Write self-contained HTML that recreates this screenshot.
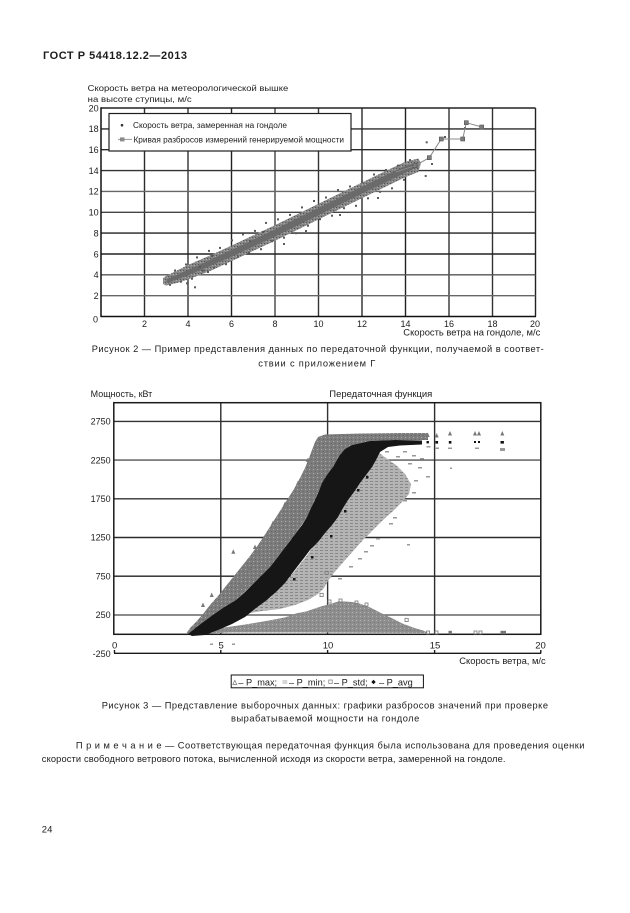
<!DOCTYPE html>
<html>
<head>
<meta charset="utf-8">
<style>
html,body{margin:0;padding:0;background:#fff;}
svg{display:block;}
text{font-family:"Liberation Sans",Arial,sans-serif;fill:#1c1c1c;}
</style>
</head>
<body>
<svg width="630" height="913" viewBox="0 0 630 913" xmlns="http://www.w3.org/2000/svg">
<defs>
  <pattern id="pmin" width="5" height="3" patternUnits="userSpaceOnUse">
    <rect width="5" height="3" fill="#b4b4b4"/>
    <rect x="0" y="1" width="3" height="1" fill="#888"/>
  </pattern>
  <pattern id="pmax" width="4" height="4" patternUnits="userSpaceOnUse">
    <rect width="4" height="4" fill="#7c7c7c"/>
    <rect x="1" y="1" width="1" height="1" fill="#a8a8a8"/>
    <rect x="3" y="3" width="1" height="1" fill="#666"/>
  </pattern>
  <pattern id="pstd" width="4" height="4" patternUnits="userSpaceOnUse">
    <rect width="4" height="4" fill="#8e8e8e"/>
    <rect x="0" y="0" width="1" height="1" fill="#b0b0b0"/>
    <rect x="2" y="2" width="1" height="1" fill="#777"/>
  </pattern>
  <pattern id="pband" width="3" height="3" patternUnits="userSpaceOnUse">
    <rect width="3" height="3" fill="#858585"/>
    <rect x="0" y="0" width="1" height="1" fill="#555"/>
    <rect x="2" y="1" width="1" height="1" fill="#aaa"/>
  </pattern>
</defs>
<rect x="0" y="0" width="630" height="913" fill="#fff"/>

<!-- Header -->
<text x="43" y="58.8" font-size="11" font-weight="bold" textLength="144" lengthAdjust="spacing">ГОСТ Р 54418.12.2—2013</text>

<!-- ============ FIGURE 2 ============ -->
<text x="87.7" y="91" font-size="8.6" textLength="200.5" lengthAdjust="spacingAndGlyphs">Скорость ветра на метеорологической вышке</text>
<text x="87.7" y="101.8" font-size="8.6" textLength="104" lengthAdjust="spacingAndGlyphs">на высоте ступицы, м/с</text>

<!-- grid -->
<g stroke-width="1.4" fill="none">
  <line x1="144.5" y1="108" x2="144.5" y2="316.5" stroke="#2b2b2b"/>
  <line x1="188" y1="108" x2="188" y2="316.5" stroke="#333"/>
  <line x1="231.5" y1="108" x2="231.5" y2="316.5" stroke="#222"/>
  <line x1="275" y1="108" x2="275" y2="316.5" stroke="#444"/>
  <line x1="318.5" y1="108" x2="318.5" y2="316.5" stroke="#333"/>
  <line x1="362" y1="108" x2="362" y2="316.5" stroke="#2b2b2b"/>
  <line x1="405.5" y1="108" x2="405.5" y2="316.5" stroke="#222"/>
  <line x1="449" y1="108" x2="449" y2="316.5" stroke="#333"/>
  <line x1="492.5" y1="108" x2="492.5" y2="316.5" stroke="#333"/>
  <line x1="535.5" y1="108" x2="535.5" y2="316.5" stroke="#222"/>
  <line x1="101" y1="295.7" x2="535.5" y2="295.7" stroke="#666"/>
  <line x1="101" y1="274.8" x2="535.5" y2="274.8" stroke="#555"/>
  <line x1="101" y1="254" x2="535.5" y2="254" stroke="#222"/>
  <line x1="101" y1="233.1" x2="535.5" y2="233.1" stroke="#222"/>
  <line x1="101" y1="212.3" x2="535.5" y2="212.3" stroke="#444"/>
  <line x1="101" y1="191.4" x2="535.5" y2="191.4" stroke="#666"/>
  <line x1="101" y1="170.6" x2="535.5" y2="170.6" stroke="#333"/>
  <line x1="101" y1="149.7" x2="535.5" y2="149.7" stroke="#2b2b2b"/>
  <line x1="101" y1="128.9" x2="535.5" y2="128.9" stroke="#2b2b2b"/>
  <line x1="101" y1="108" x2="535.5" y2="108" stroke="#222"/>
  <line x1="101" y1="107.3" x2="101" y2="317" stroke="#111" stroke-width="1.5"/>
  <line x1="100.5" y1="316.5" x2="536" y2="316.5" stroke="#111" stroke-width="1.5"/>
</g>

<!-- scatter band fig 2 -->
<polygon fill="url(#pband)" points="163,278 166.2,276 177,270.5 188,265 210,255.5 231.4,245.6 253,235.5 274.8,225.3 296.5,214.6 318.3,203.9 340,193.3 361.8,182.6 383.5,172 405.2,161.7 418.3,158.5 421,163 418.3,172 405.2,177.3 383.5,187.8 361.8,198.2 340,208.9 318.3,219.5 296.5,230.2 274.8,240.9 253,251 231.4,261.2 210,271 188,279.5 177,283 166.2,285.5 163,284"/>
<polygon fill="#6a6a6a" points="167,279 188,270 231.4,250 274.8,229.5 318.3,208 361.8,186.8 405.2,166 418,162.5 418,167 405.2,172.8 361.8,193.8 318.3,215.2 274.8,236.5 231.4,256.8 188,275.5 167,283"/>
<g fill="#5a5a5a">
  <rect x="169" y="283.8" width="2" height="2"/><rect x="174" y="269.5" width="2" height="2"/>
  <rect x="180" y="280.7" width="2" height="2"/><rect x="185" y="263.5" width="2" height="2"/>
  <rect x="191" y="277.7" width="2" height="2"/><rect x="196" y="256.4" width="2" height="2"/>
  <rect x="202" y="269.7" width="2" height="2"/><rect x="208" y="249.9" width="2" height="2"/>
  <rect x="213" y="266.7" width="2" height="2"/><rect x="219" y="246.9" width="2" height="2"/>
  <rect x="225" y="263.2" width="2" height="2"/><rect x="231" y="239.4" width="2" height="2"/>
  <rect x="237" y="255.7" width="2" height="2"/><rect x="242" y="233.4" width="2" height="2"/>
  <rect x="248" y="251.7" width="2" height="2"/><rect x="254" y="229.9" width="2" height="2"/>
  <rect x="260" y="248.2" width="2" height="2"/><rect x="265" y="221.9" width="2" height="2"/>
  <rect x="271" y="240.2" width="2" height="2"/><rect x="277" y="218.4" width="2" height="2"/>
  <rect x="283" y="236.7" width="2" height="2"/><rect x="289" y="213.9" width="2" height="2"/>
  <rect x="295" y="232.2" width="2" height="2"/><rect x="301" y="206.4" width="2" height="2"/>
  <rect x="307" y="224.7" width="2" height="2"/><rect x="313" y="200" width="2" height="2"/>
  <rect x="319" y="218.2" width="2" height="2"/><rect x="325" y="196.5" width="2" height="2"/>
  <rect x="331" y="214.7" width="2" height="2"/><rect x="337" y="189" width="2" height="2"/>
  <rect x="343" y="207.2" width="2" height="2"/><rect x="349" y="185.5" width="2" height="2"/>
  <rect x="355" y="204.8" width="2" height="2"/><rect x="361" y="181" width="2" height="2"/>
  <rect x="367" y="197.3" width="2" height="2"/><rect x="373" y="173.5" width="2" height="2"/>
  <rect x="379" y="190.8" width="2" height="2"/><rect x="385" y="169" width="2" height="2"/>
  <rect x="391" y="187.3" width="2" height="2"/><rect x="397" y="164.6" width="2" height="2"/>
  <rect x="403" y="178.8" width="2" height="2"/><rect x="409" y="159.1" width="2" height="2"/>
  <rect x="186" y="282.3" width="2" height="2"/><rect x="194" y="286.3" width="2" height="2"/>
  <rect x="199" y="266" width="2" height="2"/><rect x="211" y="255" width="2" height="2"/>
  <rect x="249" y="240" width="2" height="2"/><rect x="262" y="231" width="2" height="2"/>
  <rect x="283" y="243" width="2" height="2"/><rect x="305" y="230" width="2" height="2"/>
  <rect x="339" y="214" width="2" height="2"/><rect x="377" y="197" width="2" height="2"/>
  <rect x="425.7" y="141.3" width="2" height="2"/><rect x="424.7" y="175" width="2" height="2"/>
  <rect x="431" y="163" width="2" height="2"/><rect x="444" y="136" width="2" height="2"/>
  <rect x="464" y="127" width="2" height="2"/><rect x="207" y="271" width="2" height="2"/>
</g>
<!-- line with squares -->
<polyline fill="none" stroke="#8a8a8a" stroke-width="1" points="396,172 415,165.7 429.3,157.7 441.3,139 462.7,139 466.3,122.7 481.7,127"/>
<g fill="#7d7d7d" stroke="#555" stroke-width="0.6">
  <rect x="413" y="163.7" width="4" height="4"/>
  <rect x="427.3" y="155.7" width="4" height="4"/>
  <rect x="439.3" y="137" width="4" height="4"/>
  <rect x="460.7" y="137" width="4" height="4"/>
  <rect x="464.3" y="120.7" width="4" height="4"/>
  <rect x="479.7" y="125" width="4" height="4"/>
</g>

<!-- legend fig 2 -->
<rect x="109" y="113.5" width="242" height="37.5" fill="#fff" stroke="#1e1e1e" stroke-width="1.2"/>
<circle cx="122" cy="125.2" r="1.3" fill="#333"/>
<text x="133" y="128" font-size="8" textLength="154" lengthAdjust="spacingAndGlyphs">Скорость ветра, замеренная на гондоле</text>
<line x1="118" y1="139.4" x2="132" y2="139.4" stroke="#999" stroke-width="1"/>
<rect x="120" y="137.4" width="4.5" height="4" fill="#8a8a8a"/>
<text x="133.5" y="142.6" font-size="8" textLength="210.5" lengthAdjust="spacingAndGlyphs">Кривая разбросов измерений генерируемой мощности</text>

<!-- y ticks fig 2 -->
<g font-size="9" text-anchor="end">
  <text x="98.6" y="111.3">20</text>
  <text x="98.6" y="132.2">18</text>
  <text x="98.6" y="153">16</text>
  <text x="98.6" y="173.9">14</text>
  <text x="98.6" y="194.7">12</text>
  <text x="98.6" y="215.6">10</text>
  <text x="98.6" y="236.4">8</text>
  <text x="98.6" y="257.3">6</text>
  <text x="98.6" y="278.1">4</text>
  <text x="98.6" y="299">2</text>
  <text x="98" y="322.5">0</text>
</g>
<g font-size="9" text-anchor="middle">
  <text x="144.5" y="327">2</text>
  <text x="188" y="327">4</text>
  <text x="231.5" y="327">6</text>
  <text x="275" y="327">8</text>
  <text x="318.5" y="327">10</text>
  <text x="362" y="327">12</text>
  <text x="405.5" y="327">14</text>
  <text x="449" y="327">16</text>
  <text x="492.5" y="327">18</text>
  <text x="535" y="327">20</text>
</g>
<text x="403.3" y="335.6" font-size="8.8" textLength="137" lengthAdjust="spacingAndGlyphs">Скорость ветра на гондоле, м/с</text>

<text x="91.7" y="352.2" font-size="9.3" textLength="452" lengthAdjust="spacing">Рисунок 2 — Пример представления данных по передаточной функции, получаемой в соответ-</text>
<text x="258.3" y="366.4" font-size="9.3" textLength="117" lengthAdjust="spacing">ствии с приложением Г</text>

<!-- ============ FIGURE 3 ============ -->
<text x="90.7" y="397.2" font-size="8.8" textLength="61.6" lengthAdjust="spacingAndGlyphs">Мощность, кВт</text>
<text x="329.3" y="397.2" font-size="8.8" textLength="103" lengthAdjust="spacingAndGlyphs">Передаточная функция</text>

<!-- grid fig 3 -->
<g stroke-width="1.4" fill="none">
  <line x1="113.5" y1="421.4" x2="541" y2="421.4" stroke="#333"/>
  <line x1="113.5" y1="460.1" x2="541" y2="460.1" stroke="#555"/>
  <line x1="113.5" y1="498.8" x2="541" y2="498.8" stroke="#333"/>
  <line x1="113.5" y1="537.5" x2="541" y2="537.5" stroke="#2b2b2b"/>
  <line x1="113.5" y1="576.2" x2="541" y2="576.2" stroke="#222"/>
  <line x1="113.5" y1="615" x2="541" y2="615" stroke="#666"/>
  <line x1="220.8" y1="402.7" x2="220.8" y2="634.3" stroke="#2b2b2b"/>
  <line x1="327.6" y1="402.7" x2="327.6" y2="634.3" stroke="#333"/>
  <line x1="434.6" y1="402.7" x2="434.6" y2="634.3" stroke="#2b2b2b"/>
  <rect x="113.8" y="402.7" width="427" height="231.6" stroke="#1a1a1a" stroke-width="1.5"/>
</g>

<!-- P_std region -->
<polygon fill="url(#pstd)" points="196,634 205,631 220.5,628 242,625 263.3,621.5 284.7,617.5 296.7,613.3 306,611.5 320,606.7 331.8,603.5 338,601.5 344.6,601.5 352,602 359.6,603.5 370.3,607.5 381,613 391.7,618 402.4,623.5 413.1,627.5 423.8,630.8 428,633 300,632.5 230,632.5"/>
<!-- P_min region -->
<polygon fill="url(#pmin)" points="200,634 240,618 270,598 290,577 305,558 318,540 330,523 342,506 352,490 362,476 372,461 378,452 386,458 396,465 405,474 411,484 409,494 401,503 392,512 383,520 373,530 363,540 354,550 346,559 339,567 333,574 328,581 324,588 318,594 308,600 295,605 280,609 262,611 245,614 228,619 214,626 204,632 198,636"/>
<!-- sparse min dashes -->
<g fill="#999">
  <rect x="385" y="451" width="4" height="1.5"/><rect x="396" y="456" width="4" height="1.5"/>
  <rect x="403" y="451" width="4" height="1.5"/><rect x="412" y="455" width="4" height="1.5"/>
  <rect x="408" y="463" width="4" height="1.5"/><rect x="418" y="467" width="4" height="1.5"/>
  <rect x="420" y="458" width="4" height="1.5"/><rect x="426" y="476" width="4" height="1.5"/>
  <rect x="414" y="480" width="4" height="1.5"/><rect x="412" y="492" width="4" height="1.5"/>
  <rect x="403" y="500" width="4" height="1.5"/><rect x="393" y="517" width="4" height="1.5"/>
  <rect x="389" y="523" width="4" height="1.5"/><rect x="376" y="538" width="4" height="1.5"/>
  <rect x="364" y="551" width="4" height="1.5"/><rect x="407" y="544" width="3" height="1.5"/>
  <rect x="370" y="545" width="4" height="1.5"/><rect x="358" y="558" width="4" height="1.5"/>
  <rect x="349" y="566" width="4" height="1.5"/><rect x="338" y="578" width="4" height="1.5"/>
  <rect x="426.5" y="446" width="4" height="1.5"/><rect x="435" y="447.5" width="4" height="1.5"/>
  <rect x="448" y="447.5" width="4" height="1.5"/><rect x="475" y="447.5" width="4" height="1.5"/>
  <rect x="500" y="448" width="5" height="3"/><rect x="450" y="467.5" width="2" height="1.5"/>
  <rect x="210" y="643.5" width="3" height="1.5"/><rect x="232" y="643.5" width="3" height="1.5"/>
</g>
<!-- P_max region -->
<polygon fill="url(#pmax)" points="186,634 190,628 196,622 203,614 210,605 218,596 226,586 234,576 242,566 250,556 258,545 266,533 273,522 280,511 287,500 294,489 300,478 305,468 309,458 312,450 315,442 318,437 325,434.5 360,433.5 400,433 428,433 428,440 395,440 370,441 352,445 345,449 333,467 319,491 307,517 296,533 283,550 270,567 254,583 236,600 210,617 188,634"/>
<!-- P_avg black band -->
<polygon fill="#161616" points="188,634 198,626 210,617 223,608 236,600 245,592 254,583 262,575 270,567 277,558 283,550 290,541 296,533 302,525 307,517 311,508 315,500 319,491 322,483 327,475 333,467 337,460 340,455 345,449 352,445 370,441 395,440 422,440.5 422,444.5 400,445.5 388,447 380,452 376,460 372,467 366,475 360,483 354,492 348,500 343,508 338,517 332,525 325,533 318,542 310,550 304,558 297,567 291,575 285,583 276,592 267,600 256,608 245,617 232,624 218,630 205,635 192,636"/>
<g fill="#161616">
  <rect x="357" y="489" width="2.5" height="2.5"/><rect x="366" y="476" width="2.5" height="2.5"/>
  <rect x="344" y="510" width="2.5" height="2.5"/><rect x="330" y="535" width="2.5" height="2.5"/>
  <rect x="311" y="556" width="2.5" height="2.5"/><rect x="293" y="578" width="2.5" height="2.5"/>
</g>

<!-- plateau extras -->
<g fill="#777">
  <polygon points="425.7,437 427.7,432.5 429.7,437"/>
  <polygon points="434.7,437.5 436.7,433 438.7,437.5"/>
  <polygon points="448,435.5 450,431 452,435.5"/>
  <polygon points="473,435.5 475,431 477,435.5"/>
  <polygon points="477,435.5 479,431 481,435.5"/>
  <polygon points="500.3,435.5 502.3,431 504.3,435.5"/>
</g>
<g fill="#111">
  <rect x="426.5" y="441" width="2.4" height="2.4"/>
  <rect x="435.5" y="441" width="2.6" height="2.6"/>
  <rect x="448.8" y="441" width="2.6" height="2.6"/>
  <rect x="474" y="441" width="2" height="2"/>
  <rect x="478" y="441" width="2" height="2"/>
  <rect x="500.5" y="441" width="3.4" height="2.6"/>
</g>

<!-- outliers -->
<g fill="#777">
  <polygon points="209.7,597 211.7,592.5 213.7,597"/>
  <polygon points="231.3,553.7 233.3,549.2 235.3,553.7"/>
  <polygon points="248,570 250,565.5 252,570"/>
  <polygon points="256.3,553.7 258.3,549.2 260.3,553.7"/>
  <polygon points="239,588 241,583.5 243,588"/>
  <polygon points="201,607 203,602.5 205,607"/>
  <polygon points="253,549 255,544.5 257,549"/>
  <polygon points="262,540 264,535.5 266,540"/>
  <polygon points="271,525 273,520.5 275,525"/>
  <polygon points="283,506 285,501.5 287,506"/>
  <polygon points="296,485 298,480.5 300,485"/>
  <polygon points="306,462 308,457.5 310,462"/>
</g>
<g fill="none" stroke="#777" stroke-width="0.8">
  <rect x="320" y="593.3" width="3.2" height="3.2"/>
  <rect x="325" y="571.3" width="3.2" height="3.2"/>
  <rect x="405" y="618.3" width="3.2" height="3.2"/>
  <rect x="328" y="600" width="3" height="3"/>
  <rect x="339" y="599" width="3" height="3"/>
  <rect x="355" y="601" width="3" height="3"/>
  <rect x="365" y="603" width="3" height="3"/>
  <rect x="426.5" y="631" width="3" height="3"/>
  <rect x="435" y="631" width="3" height="3"/>
  <rect x="474" y="631" width="3" height="3"/>
  <rect x="479" y="631" width="3" height="3"/>
</g>
<g fill="#777">
  <rect x="448.5" y="630.8" width="3.4" height="3.4"/>
  <rect x="500.5" y="630.8" width="5.5" height="3.4"/>
</g>

<!-- bottom axis fig 3 -->
<g stroke="#1a1a1a" stroke-width="1.4">
  <line x1="114" y1="653.3" x2="541" y2="653.3"/>
  <line x1="114.5" y1="650" x2="114.5" y2="653.3"/>
  <line x1="220.8" y1="650" x2="220.8" y2="653.3"/>
  <line x1="327.6" y1="650" x2="327.6" y2="653.3"/>
  <line x1="434.6" y1="650" x2="434.6" y2="653.3"/>
  <line x1="540.8" y1="650" x2="540.8" y2="653.3"/>
</g>
<g font-size="9" text-anchor="end">
  <text x="110.7" y="424.6">2750</text>
  <text x="110.7" y="463.3">2250</text>
  <text x="110.7" y="502">1750</text>
  <text x="110.7" y="540.7">1250</text>
  <text x="110.7" y="579.4">750</text>
  <text x="110.7" y="618.2">250</text>
  <text x="110.7" y="657">-250</text>
</g>
<g font-size="9.5" text-anchor="middle">
  <text x="114.6" y="648.5">0</text>
  <text x="221.2" y="648.5">5</text>
  <text x="328" y="648.5">10</text>
  <text x="435" y="648.5">15</text>
  <text x="540.5" y="648.5">20</text>
</g>
<text x="459.3" y="664" font-size="8.8" textLength="86.4" lengthAdjust="spacingAndGlyphs">Скорость ветра, м/с</text>

<!-- legend fig 3 -->
<rect x="231.2" y="675" width="192.2" height="12.8" fill="#fff" stroke="#111" stroke-width="1"/>
<polygon points="232.8,684.5 234.8,680.3 236.8,684.5" fill="none" stroke="#777" stroke-width="0.7"/>
<text x="238.3" y="685.6" font-size="9.2">– P_max;</text>
<line x1="282.5" y1="681" x2="287.3" y2="681" stroke="#999" stroke-width="0.8"/>
<line x1="282.5" y1="683" x2="287.3" y2="683" stroke="#999" stroke-width="0.8"/>
<text x="289" y="685.6" font-size="9.2">– P_min;</text>
<rect x="328.8" y="680" width="3.4" height="3.4" fill="none" stroke="#777" stroke-width="0.7"/>
<text x="334" y="685.6" font-size="9.2">– P_std;</text>
<polygon points="373.5,679.8 375.7,682 373.5,684.2 371.3,682" fill="#111"/>
<text x="379" y="685.6" font-size="9.2">–  P_avg</text>

<text x="101.7" y="708.5" font-size="9.3" textLength="446.3" lengthAdjust="spacing">Рисунок 3 — Представление выборочных данных: графики разбросов значений при проверке</text>
<text x="231" y="721.5" font-size="9.3" textLength="188.3" lengthAdjust="spacing">вырабатываемой мощности на гондоле</text>

<!-- Note -->
<text x="75.9" y="748.6" font-size="9.3" textLength="508.6" lengthAdjust="spacing">П р и м е ч а н и е — Соответствующая передаточная функция была использована для проведения оценки</text>
<text x="41.8" y="761.8" font-size="9.3" textLength="463.7" lengthAdjust="spacing">скорости свободного ветрового потока, вычисленной исходя из скорости ветра, замеренной на гондоле.</text>

<text x="41.8" y="832.5" font-size="9.5">24</text>
</svg>
</body>
</html>
